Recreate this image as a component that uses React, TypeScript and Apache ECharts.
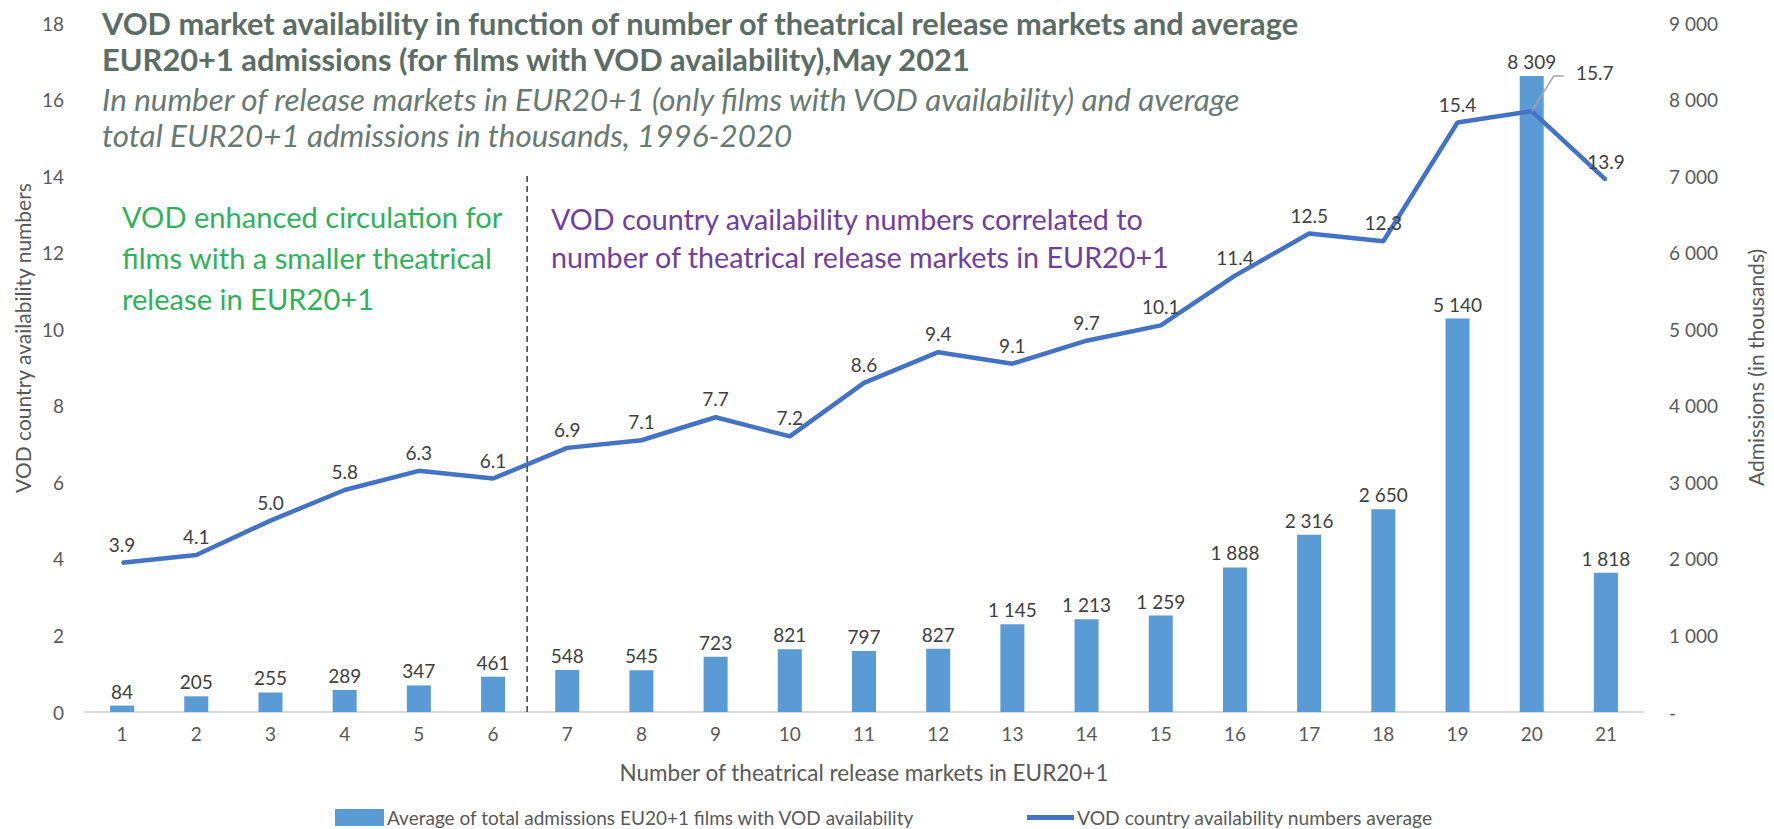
import React, { useEffect, useRef } from "react";
import * as echarts from "echarts";

const categories = ["1","2","3","4","5","6","7","8","9","10","11","12","13","14","15","16","17","18","19","20","21"];
const admissions = [84, 205, 255, 289, 347, 461, 548, 545, 723, 821, 797, 827, 1145, 1213, 1259, 1888, 2316, 2650, 5140, 8309, 1818];
const vodAvailability = [3.9, 4.1, 5.0, 5.8, 6.3, 6.1, 6.9, 7.1, 7.7, 7.2, 8.6, 9.4, 9.1, 9.7, 10.1, 11.4, 12.5, 12.3, 15.4, 15.7, 13.9];
const leftTicks = { min: 0, max: 18, interval: 2 };
const rightTicks = { min: 0, max: 9000, interval: 1000 };

const barName = "Average of total admissions EU20+1 films with VOD availability";
const lineName = "VOD country availability numbers average";

const FONT = "Lato";
const fmtThousands = (v: number) => String(Math.round(v)).replace(/\B(?=(\d{3})+(?!\d))/g, " ");

export default function App() {
  const ref = useRef<HTMLDivElement>(null);
  useEffect(() => {
    document.body.style.margin = "0";
    const chart = echarts.init(ref.current!, null, { renderer: "svg" });
    const option: any = {
      animation: false,
      backgroundColor: "#ffffff",
      textStyle: { fontFamily: FONT },
      title: {
        left: 97,
        top: 0,
        itemGap: 4,
        text: "VOD market availability in function of number of theatrical release markets and average\nEUR20+1 admissions (for films with VOD availability),May 2021",
        textStyle: { fontFamily: FONT, fontWeight: "bold", fontSize: 30.8, lineHeight: 36, color: "#5b6d65" },
        subtext: "In number of release markets in EUR20+1 (only films with VOD availability) and average\ntotal EUR20+1 admissions in thousands, 1996-2020",
        subtextStyle: { fontFamily: FONT, fontStyle: "italic", fontSize: 31.4, lineHeight: 36, color: "#687a72" },
      },
      grid: { left: 85, right: 122, top: 23, bottom: 117, containLabel: false },
      legend: [
        {
          data: [{ name: barName, icon: "rect" }],
          left: 330, top: 803, itemWidth: 49, itemHeight: 17, itemGap: 0,
          textStyle: { fontFamily: FONT, fontSize: 19, color: "#595959", padding: [0, 0, 0, -2] },
        },
        {
          data: [{ name: lineName, icon: "rect" }],
          left: 1022, top: 803, itemWidth: 47, itemHeight: 5, itemGap: 0,
          textStyle: { fontFamily: FONT, fontSize: 19.3, color: "#595959", padding: [0, 0, 0, -2] },
        },
      ],
      xAxis: {
        type: "category",
        data: categories,
        axisLine: { lineStyle: { color: "#d9d9d9", width: 2 } },
        axisTick: { show: false },
        axisLabel: { fontFamily: FONT, fontSize: 19, color: "#595959", margin: 12 },
        name: "Number of theatrical release markets in EUR20+1",
        nameLocation: "middle",
        nameGap: 49,
        nameTextStyle: { fontFamily: FONT, fontSize: 22.5, color: "#595959" },
      },
      yAxis: [
        {
          type: "value",
          ...leftTicks,
          splitLine: { show: false },
          axisLine: { show: false },
          axisTick: { show: false },
          axisLabel: { fontFamily: FONT, fontSize: 19, color: "#595959", margin: 21 },
        },
        {
          type: "value",
          ...rightTicks,
          position: "right",
          splitLine: { show: false },
          axisLine: { show: false },
          axisTick: { show: false },
          axisLabel: {
            fontFamily: FONT, fontSize: 19, color: "#595959", margin: 26,
            formatter: (v: number) => (v === 0 ? "-" : fmtThousands(v)),
          },
          name: "Admissions (in thousands)",
          nameLocation: "middle",
          nameGap: 102,
          nameTextStyle: { fontFamily: FONT, fontSize: 21, color: "#595959" },
        },
      ],
      series: [
        {
          name: barName,
          type: "bar",
          yAxisIndex: 1,
          data: admissions,
          barWidth: 24,
          itemStyle: { color: "#5b9bd5" },
          label: {
            show: true, position: "top", distance: 5,
            fontFamily: FONT, fontSize: 19, color: "#404040",
            formatter: (p: any) => fmtThousands(p.value),
          },
        },
        {
          name: lineName,
          type: "line",
          yAxisIndex: 0,
          data: vodAvailability.map((v, i) =>
            i === 19 ? { value: v, label: { offset: [63, -20] } } : v
          ),
          symbol: "circle",
          symbolSize: 2,
          showSymbol: true,
          lineStyle: { color: "#4472c4", width: 4.5 },
          itemStyle: { color: "#4472c4" },
          label: {
            show: true, position: "top", distance: 8,
            fontFamily: FONT, fontSize: 19, color: "#404040",
            formatter: (p: any) => Number(p.value).toFixed(1),
          },
          z: 3,
        },
      ],
    };
    chart.setOption(option);

    const x6 = chart.convertToPixel({ xAxisIndex: 0 }, "6") as number;
    const x7 = chart.convertToPixel({ xAxisIndex: 0 }, "7") as number;
    const xDash = (x6 + x7) / 2 - 3;
    const yBottom = chart.convertToPixel({ yAxisIndex: 0 }, 0) as number;
    const yTop = chart.convertToPixel({ yAxisIndex: 0 }, 14) as number;
    const p20 = chart.convertToPixel({ xAxisIndex: 0, yAxisIndex: 0 }, [19, vodAvailability[19]]) as number[];

    chart.setOption({
      graphic: [
        {
          type: "line",
          shape: { x1: xDash, y1: yTop, x2: xDash, y2: yBottom },
          style: { stroke: "#404040", lineWidth: 1.5, lineDash: [6, 4] },
          z: 10,
        },
        {
          type: "polyline",
          shape: { points: [[p20[0], p20[1]], [p20[0] + 22, p20[1] - 35], [p20[0] + 32, p20[1] - 35]] },
          style: { stroke: "#a5a5a5", lineWidth: 1.5, fill: null },
          z: 10,
        },
        {
          type: "text",
          x: 22, y: 338, rotation: Math.PI / 2,
          style: {
            text: "VOD country availability numbers",
            fontFamily: FONT, fontSize: 21, fill: "#595959",
            align: "center", verticalAlign: "middle",
          },
        },
        {
          type: "text",
          x: 122, y: 196,
          style: {
            text: "VOD enhanced circulation for\nfilms with a smaller theatrical\nrelease in EUR20+1",
            fontFamily: FONT, fontSize: 29.1, lineHeight: 41, fill: "#2fb25b",
          },
        },
        {
          type: "text",
          x: 551, y: 200,
          style: {
            text: "VOD country availability numbers correlated to\nnumber of theatrical release markets in EUR20+1",
            fontFamily: FONT, fontSize: 28.7, lineHeight: 38, fill: "#7040a0",
          },
        },
      ],
    });

    return () => chart.dispose();
  }, []);
  return (
    <div
      ref={ref}
      style={{ position: "absolute", left: 0, top: 0, width: 1774, height: 829 }}
    />
  );
}
